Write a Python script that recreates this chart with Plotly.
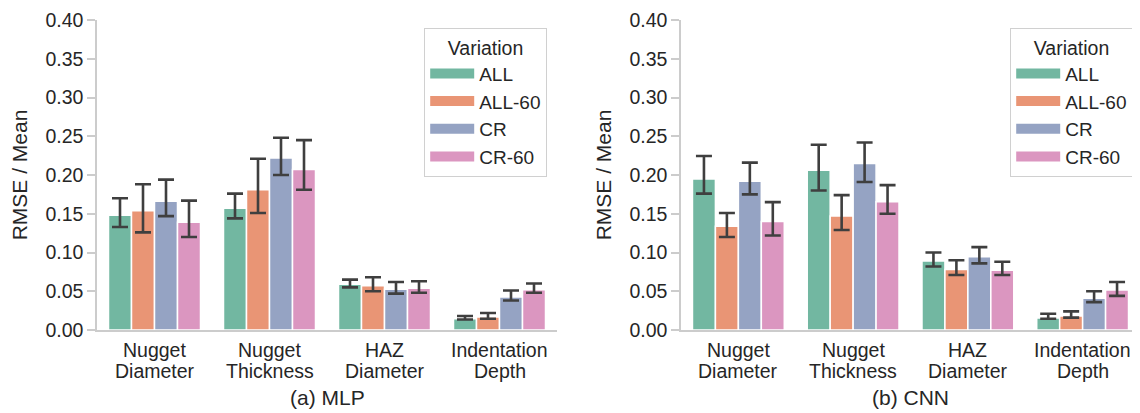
import plotly.graph_objects as go

categories = ["Nugget Diameter", "Nugget Thickness", "HAZ Diameter", "Indentation Depth"]
label_line1 = ["Nugget", "Nugget", "HAZ", "Indentation"]
label_line2 = ["Diameter", "Thickness", "Diameter", "Depth"]
variations = ["ALL", "ALL-60", "CR", "CR-60"]
colors = ["#72b7a1", "#e99575", "#95a3c3", "#db96c0"]

# MLP: mean, upper CI, lower CI per variation (order: categories)
mlp_mean = {
    "ALL":    [0.148, 0.157, 0.059, 0.0146],
    "ALL-60": [0.154, 0.181, 0.057, 0.0168],
    "CR":     [0.166, 0.222, 0.0525, 0.0426],
    "CR-60":  [0.139, 0.207, 0.054, 0.052],
}
mlp_hi = {
    "ALL":    [0.170, 0.176, 0.065, 0.018],
    "ALL-60": [0.188, 0.221, 0.068, 0.022],
    "CR":     [0.194, 0.248, 0.062, 0.051],
    "CR-60":  [0.167, 0.245, 0.063, 0.060],
}
mlp_lo = {
    "ALL":    [0.133, 0.144, 0.055, 0.0135],
    "ALL-60": [0.126, 0.151, 0.050, 0.0146],
    "CR":     [0.147, 0.200, 0.047, 0.038],
    "CR-60":  [0.120, 0.181, 0.048, 0.048],
}

# CNN
cnn_mean = {
    "ALL":    [0.195, 0.206, 0.089, 0.0155],
    "ALL-60": [0.134, 0.147, 0.078, 0.018],
    "CR":     [0.192, 0.215, 0.0946, 0.041],
    "CR-60":  [0.140, 0.1655, 0.077, 0.0516],
}
cnn_hi = {
    "ALL":    [0.2245, 0.239, 0.100, 0.021],
    "ALL-60": [0.151, 0.174, 0.090, 0.024],
    "CR":     [0.216, 0.242, 0.107, 0.050],
    "CR-60":  [0.165, 0.187, 0.088, 0.062],
}
cnn_lo = {
    "ALL":    [0.176, 0.180, 0.082, 0.0146],
    "ALL-60": [0.120, 0.129, 0.071, 0.016],
    "CR":     [0.175, 0.191, 0.086, 0.036],
    "CR-60":  [0.122, 0.150, 0.071, 0.044],
}

y_ticks = [0.0, 0.05, 0.10, 0.15, 0.20, 0.25, 0.30, 0.35, 0.40]
y_ticktext = ["0.00", "0.05", "0.10", "0.15", "0.20", "0.25", "0.30", "0.35", "0.40"]
panel_titles = ["(a) MLP", "(b) CNN"]

FONT = "Liberation Sans, Arial, sans-serif"
TXT = "#262626"
AX = "#cccccc"
ERR = "#3f3f3f"

fig = go.Figure()

panels = [(mlp_mean, mlp_hi, mlp_lo, "x", "y", "legend"),
          (cnn_mean, cnn_hi, cnn_lo, "x2", "y2", "legend2")]

for mean, hi, lo, xa, ya, lg in panels:
    for v, c in zip(variations, colors):
        m = mean[v]
        fig.add_trace(go.Bar(
            x=categories, y=m, name=v, xaxis=xa, yaxis=ya,
            marker=dict(color=c, line=dict(color="white", width=1.5)),
            error_y=dict(type="data", symmetric=False,
                         array=[h - a for h, a in zip(hi[v], m)],
                         arrayminus=[a - l for a, l in zip(m, lo[v])],
                         color=ERR, thickness=2.6, width=8),
            showlegend=False,
        ))
    for v, c in zip(variations, colors):
        fig.add_trace(go.Scatter(
            x=[None], y=[None], mode="lines", name=v, xaxis=xa, yaxis=ya,
            line=dict(color=c, width=12), legend=lg, showlegend=True,
        ))

# page has an 8px body margin: figure origin sits at (8, 8) in the window
W, H = 1132, 405
ml, mr, mt, mb = 89, 0, 12, 83
pw = W - ml - mr
ph = H - mt - mb
d1 = 460 / pw
d2 = 584 / pw

axis_common = dict(showline=True, linecolor=AX, linewidth=1.5, showgrid=False,
                   zeroline=False, tickfont=dict(family=FONT, size=19.5, color=TXT))
yaxis_common = dict(axis_common, range=[0, 0.4], tickvals=y_ticks, ticktext=y_ticktext,
                    ticks="outside", ticklen=8, tickwidth=1.5, tickcolor=AX,
                    title=dict(text="RMSE / Mean", font=dict(family=FONT, size=21, color=TXT), standoff=12))
xaxis_common = dict(axis_common, ticks="", range=[-0.5, 3.5], showticklabels=False)

legend_common = dict(
    bgcolor="white", bordercolor="#d0d0d0", borderwidth=1.2,
    font=dict(family=FONT, size=19, color=TXT),
    title=dict(text="Variation", side="top center", font=dict(family=FONT, size=19.5, color=TXT)),
    xanchor="right", yanchor="top", y=302 / ph, tracegroupgap=0, itemwidth=44,
)

annotations = []
for xa in ["x", "x2"]:
    for c, l1, l2 in zip(categories, label_line1, label_line2):
        annotations.append(dict(text=l1, xref=xa, yref="paper", x=c, y=-20 / ph,
                                xanchor="center", yanchor="middle", showarrow=False,
                                font=dict(family=FONT, size=19.5, color=TXT)))
        annotations.append(dict(text=l2, xref=xa, yref="paper", x=c, y=-41 / ph,
                                xanchor="center", yanchor="middle", showarrow=False,
                                font=dict(family=FONT, size=19.5, color=TXT)))
for xa, t in zip(["x domain", "x2 domain"], panel_titles):
    annotations.append(dict(text=t, xref=xa, yref="paper", x=0.5, y=-67 / ph,
                            xanchor="center", yanchor="middle", showarrow=False,
                            font=dict(family=FONT, size=21, color=TXT)))

fig.update_layout(
    width=W, height=H,
    margin=dict(l=ml, r=mr, t=mt, b=mb),
    paper_bgcolor="white", plot_bgcolor="white",
    barmode="group", bargap=0.2, bargroupgap=0,
    font=dict(family=FONT, color=TXT),
    xaxis=dict(xaxis_common, domain=[0, d1], anchor="y"),
    xaxis2=dict(xaxis_common, domain=[d2, 1], anchor="y2"),
    yaxis=dict(yaxis_common, anchor="x"),
    yaxis2=dict(yaxis_common, anchor="x2"),
    legend=dict(legend_common, x=450 / pw),
    legend2=dict(legend_common, x=1036 / pw),
    annotations=annotations,
)

fig.write_html("out.html")
